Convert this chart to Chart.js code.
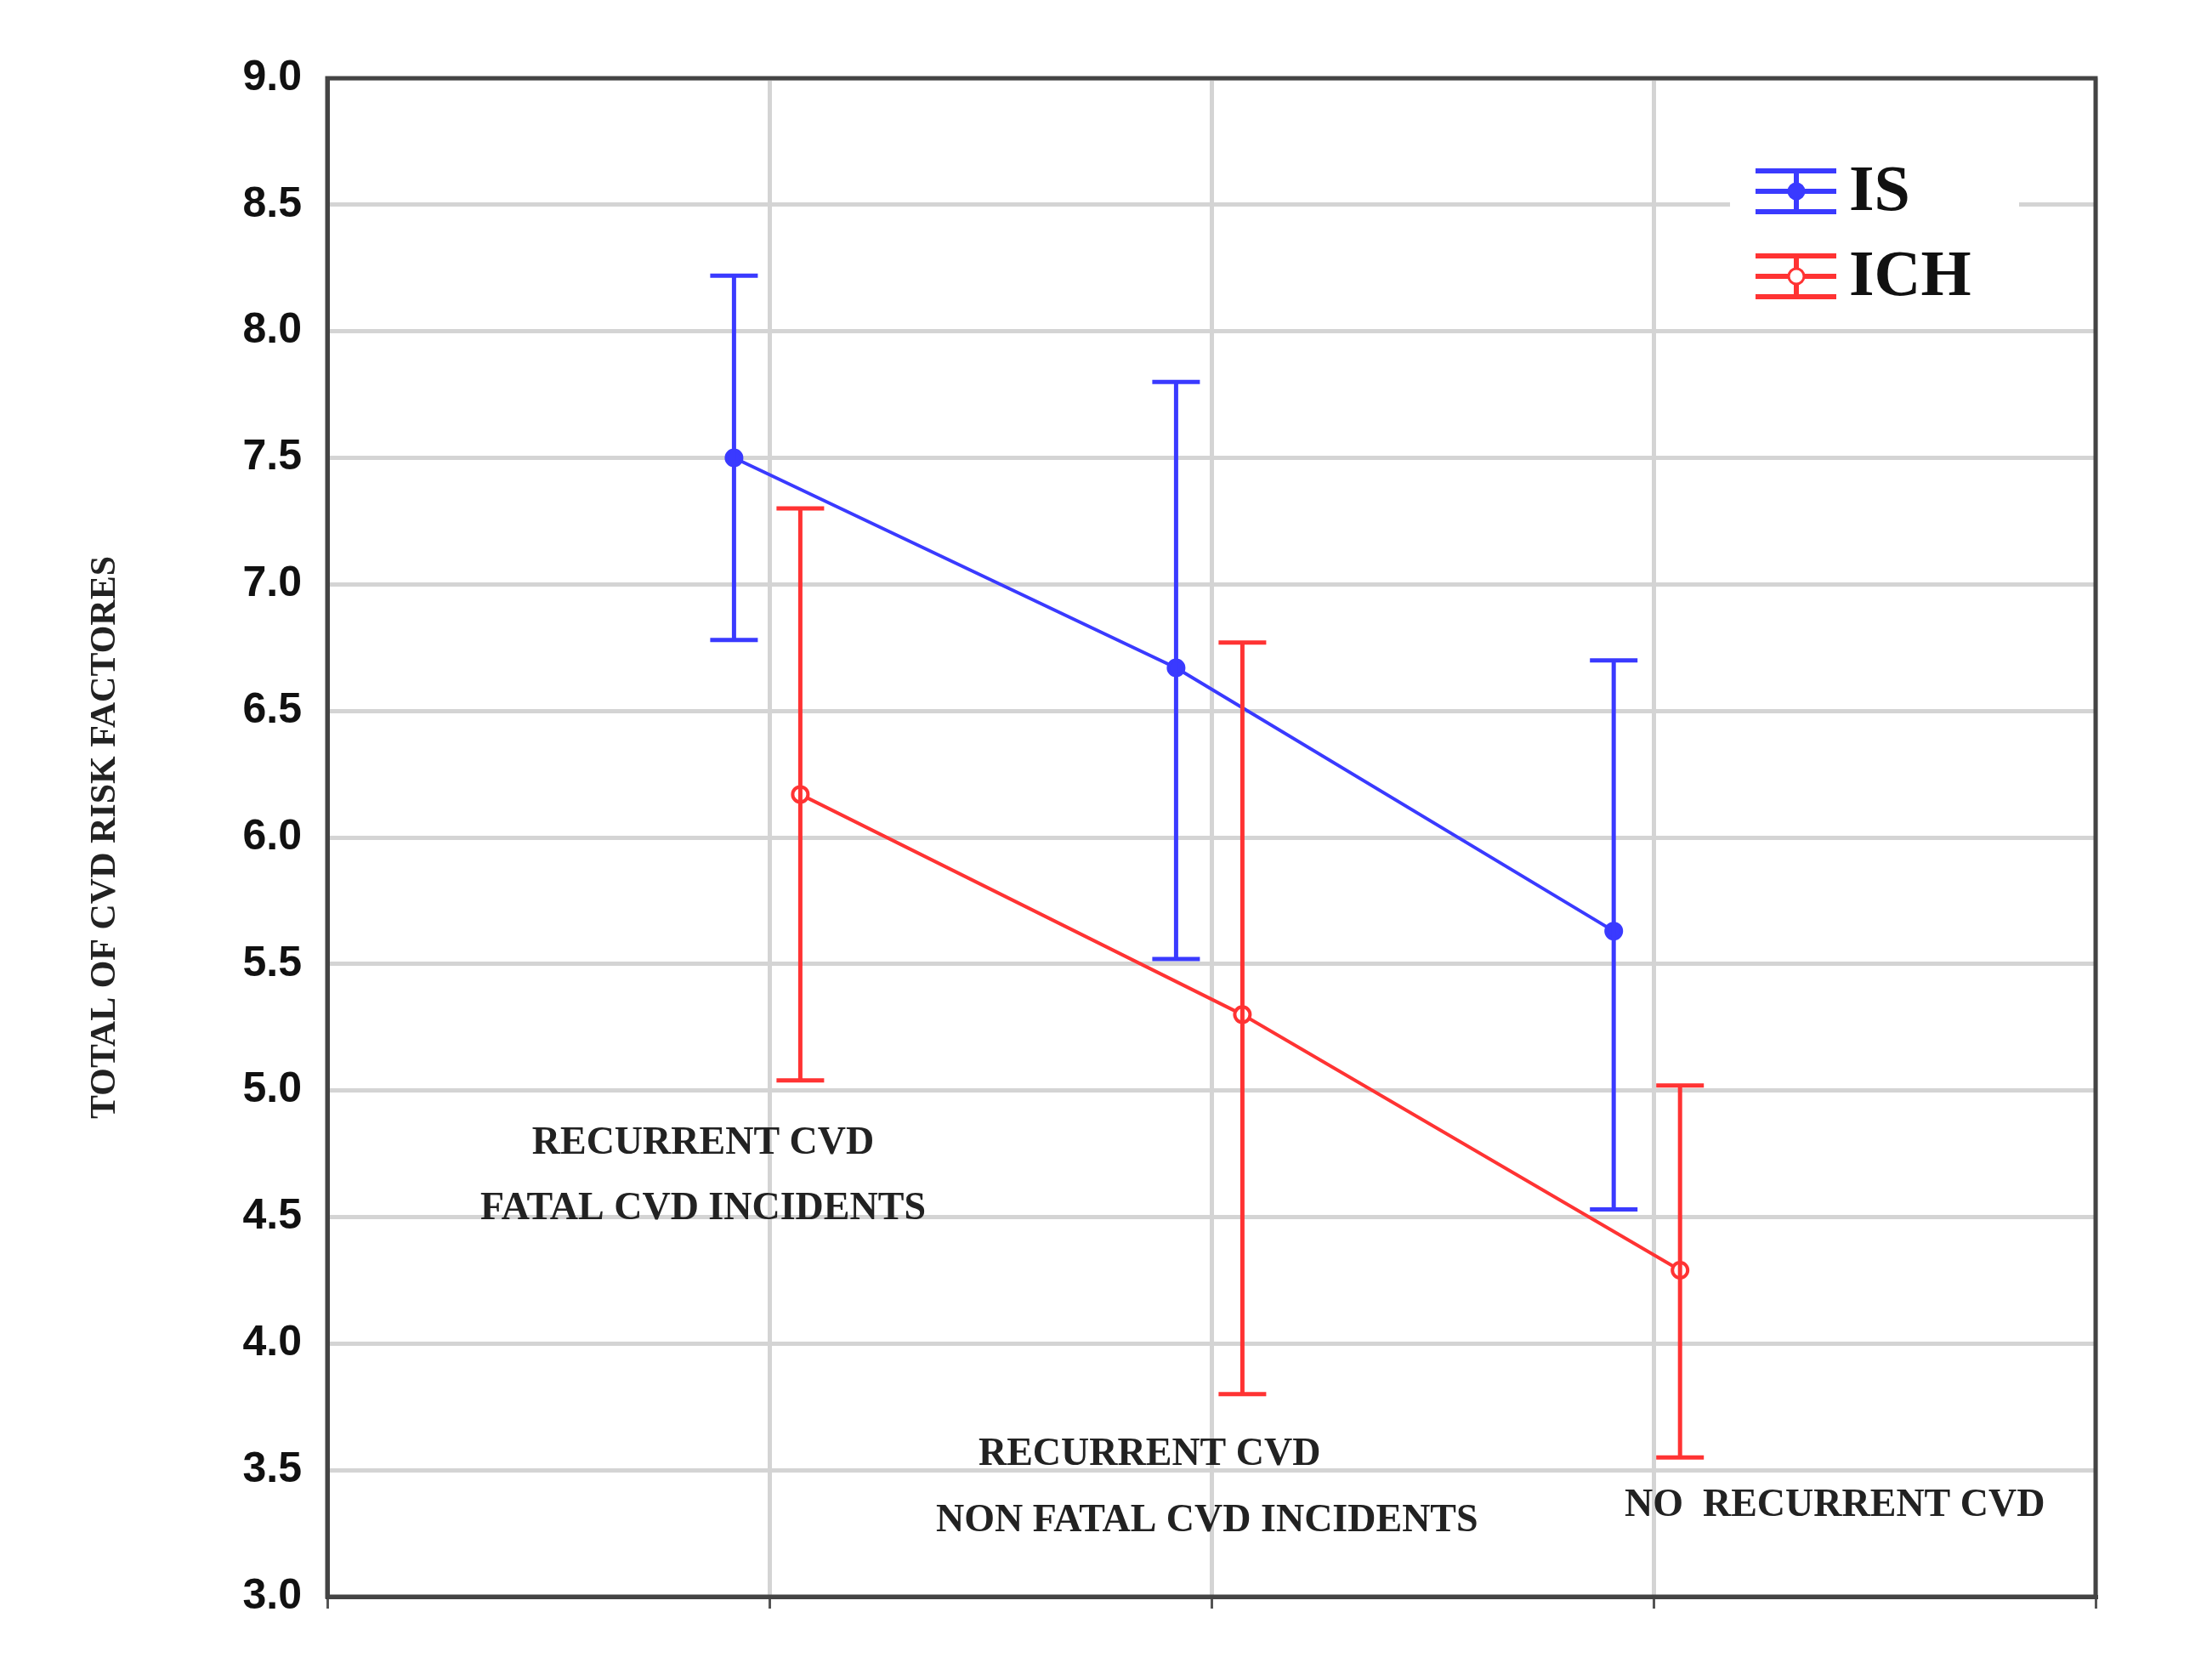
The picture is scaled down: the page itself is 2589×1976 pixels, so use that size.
<!DOCTYPE html>
<html>
<head>
<meta charset="utf-8">
<script src="https://cdn.jsdelivr.net/npm/chart.js@4"></script>
<style>body{margin:0;background:#fff}</style>
</head>
<body>
<canvas id="c" width="2589" height="1976"></canvas>
<script>
// positions on the x axis (groups at 1,2,3, series slightly offset)
const isX = [0.92, 1.92, 2.91];
const ichX = [1.07, 2.07, 3.06];
const isMean = [7.50, 6.67, 5.63];
const isHigh = [8.22, 7.80, 6.70];
const isLow = [6.78, 5.52, 4.53];
const ichMean = [6.17, 5.30, 4.29];
const ichHigh = [7.30, 6.77, 5.02];
const ichLow = [5.04, 3.80, 3.55];
const groupLabels = [
    { x: [0.85, 0.85], y: [4.79, 4.53], lines: ["RECURRENT CVD", "FATAL CVD INCIDENTS"] },
    { x: [1.86, 1.99], y: [3.56, 3.30], lines: ["RECURRENT CVD", "NON FATAL CVD INCIDENTS"] },
    { x: [3.41], y: [3.36], lines: ["NO  RECURRENT CVD"] }
];
const blue = "#3a3aff";
const red = "#ff3333";

const errorBars = {
    id: "errorBars",
    afterDatasetsDraw(chart) {
        const c = chart.ctx, xs = chart.scales.x, ys = chart.scales.y;
        const sets = [[isX, isHigh, isLow, blue], [ichX, ichHigh, ichLow, red]];
        c.save();
        c.lineWidth = 5;
        sets.forEach(([xv, hi, lo, col]) => {
            c.strokeStyle = col;
            xv.forEach((x, i) => {
                const px = xs.getPixelForValue(x);
                const top = ys.getPixelForValue(hi[i]), bot = ys.getPixelForValue(lo[i]);
                c.beginPath();
                c.moveTo(px, top); c.lineTo(px, bot);
                c.moveTo(px - 28, top); c.lineTo(px + 28, top);
                c.moveTo(px - 28, bot); c.lineTo(px + 28, bot);
                c.stroke();
            });
        });
        // group labels
        c.fillStyle = "#222";
        c.font = "bold 46px 'Liberation Serif', 'DejaVu Serif', serif";
        c.textAlign = "center";
        c.textBaseline = "middle";
        groupLabels.forEach(g => {
            g.lines.forEach((t, j) => {
                c.fillText(t, xs.getPixelForValue(g.x[j]), ys.getPixelForValue(g.y[j]));
            });
        });
        // legend
        const lx = 2065, ly = 225;
        c.fillStyle = "#fff";
        c.fillRect(lx - 30, ly - 80, 340, 210);
        [[blue, "IS", false], [red, "ICH", true]].forEach(([col, t, open], k) => {
            const cy = ly + k * 100;
            c.strokeStyle = col;
            c.lineWidth = 6;
            c.beginPath();
            c.moveTo(lx, cy - 24); c.lineTo(lx + 95, cy - 24);
            c.moveTo(lx, cy); c.lineTo(lx + 95, cy);
            c.moveTo(lx, cy + 24); c.lineTo(lx + 95, cy + 24);
            c.moveTo(lx + 48, cy - 24); c.lineTo(lx + 48, cy + 24);
            c.stroke();
            c.beginPath();
            c.arc(lx + 48, cy, 9, 0, Math.PI * 2);
            c.fillStyle = open ? "#fff" : col;
            c.fill();
            c.lineWidth = 3;
            c.stroke();
            c.fillStyle = "#111";
            c.textAlign = "left";
            c.font = "bold 76px 'Liberation Serif', 'DejaVu Serif', serif";
            c.fillText(t, lx + 110, cy + 2);
        });
        c.restore();
    }
};

new Chart(document.getElementById("c"), {
    type: "scatter",
    data: {
        datasets: [
            { label: "IS", data: isX.map((x, i) => ({ x, y: isMean[i] })), showLine: true,
              borderColor: blue, backgroundColor: blue, borderWidth: 4, pointRadius: 9 },
            { label: "ICH", data: ichX.map((x, i) => ({ x, y: ichMean[i] })), showLine: true,
              borderColor: red, backgroundColor: "#fff", borderWidth: 4, pointRadius: 9, pointBorderWidth: 4 }
        ]
    },
    options: {
        responsive: false,
        devicePixelRatio: 1,
        animation: false,
        layout: { padding: { top: 92, right: 124, left: 95, bottom: 0 } },
        plugins: { legend: { display: false }, tooltip: { enabled: false } },
        scales: {
            x: {
                min: 0, max: 4,
                ticks: { stepSize: 1, callback: () => "" },
                grid: { color: "#d4d4d4", lineWidth: 5, tickLength: 14, tickColor: "#555", tickWidth: 3 },
                border: { color: "#444", width: 5 },
                afterFit: s => { s.height = 98; }
            },
            y: {
                min: 3, max: 9,
                ticks: { stepSize: 0.5, callback: v => v.toFixed(1), color: "#111", padding: 30,
                         font: { size: 50, weight: "bold", family: "'Liberation Sans', Arial, sans-serif" } },
                grid: { color: "#d4d4d4", lineWidth: 5, drawTicks: false },
                border: { color: "#444", width: 5 },
                title: { display: true, text: "TOTAL OF CVD RISK FACTORES", color: "#222",
                         font: { size: 42, weight: "bold", family: "'Liberation Serif', 'DejaVu Serif', serif" } },
                afterFit: s => { s.width = 290; }
            }
        }
    },
    plugins: [errorBars, {
        id: "frame",
        afterDraw(chart) {
            const a = chart.chartArea, c = chart.ctx;
            c.save();
            c.strokeStyle = "#444";
            c.lineWidth = 5;
            c.strokeRect(a.left, a.top, a.right - a.left, a.bottom - a.top);
            c.restore();
        }
    }]
});
</script>
</body>
</html>
